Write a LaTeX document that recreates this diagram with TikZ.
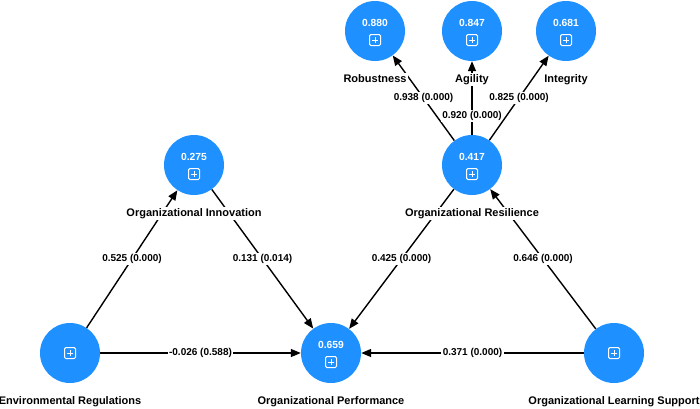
\documentclass[tikz,border=0pt]{standalone}
\usepackage{fontspec}
\setmainfont{Liberation Sans}
\usetikzlibrary{positioning,arrows.meta}
\definecolor{lvblue}{RGB}{30,144,255}

\begin{document}
\begin{tikzpicture}[x=1pt,y=-1pt,
  lv/.style={circle,fill=lvblue,minimum size=60pt,inner sep=0pt},
  val/.style={text=white,inner sep=0pt,font=\bfseries\fontsize{10.3}{12}\selectfont},
  lbl/.style={fill=white,inner sep=1.5pt,text height=8pt,text depth=2pt,font=\bfseries\fontsize{11}{13}\selectfont},
  coef/.style={fill=white,inner sep=1.5pt,font=\bfseries\fontsize{10}{12}\selectfont},
  arr/.style={-{Triangle[length=10pt,width=8pt]},line width=1.4pt},
  plusbox/.pic={
    \draw[white,line width=1pt,rounded corners=1.3pt] (-5.5,-5.5) rectangle (5.5,5.5);
    \draw[white,line width=1pt] (-3.2,0) -- (3.2,0) (0,-3.2) -- (0,3.2);}]
\useasboundingbox (0,0) rectangle (700,408);
% latent variables
\node[lv] (env) at (70,353) {};
\node[lv] (inn) at (194,165) {};
\node[lv] (perf) at (331,353) {};
\node[lv] (res) at (472,165) {};
\node[lv] (ols) at (614,353) {};
\node[lv] (rob) at (375,31) {};
\node[lv] (agi) at (472,31) {};
\node[lv] (int) at (566,31) {};
% R-square values
\node[val] (innV) at ([yshift=8pt]inn.center) {0.275};
\node[val] (perfV) at ([yshift=8pt]perf.center) {0.659};
\node[val] (resV) at ([yshift=8pt]res.center) {0.417};
\node[val] (robV) at ([yshift=8pt]rob.center) {0.880};
\node[val] (agiV) at ([yshift=8pt]agi.center) {0.847};
\node[val] (intV) at ([yshift=8pt]int.center) {0.681};
\pic at ([yshift=-9pt]inn.center) {plusbox};
\pic at ([yshift=-9pt]perf.center) {plusbox};
\pic at ([yshift=-9pt]res.center) {plusbox};
\pic at ([yshift=-9pt]rob.center) {plusbox};
\pic at ([yshift=-9pt]agi.center) {plusbox};
\pic at ([yshift=-9pt]int.center) {plusbox};
\pic at (env.center) {plusbox};
\pic at (ols.center) {plusbox};
% paths
\draw[arr] (env) -- node[coef] (envinn) {0.525 (0.000)} (inn);
\draw[arr] (inn) -- node[coef] (innperf) {0.131 (0.014)} (perf);
\draw[arr] (env) -- node[coef] (envperf) {-0.026 (0.588)} (perf);
\draw[arr] (res) -- node[coef] (resperf) {0.425 (0.000)} (perf);
\draw[arr] (ols) -- node[coef] (olsres) {0.646 (0.000)} (res);
\draw[arr] (ols) -- node[coef] (olsperf) {0.371 (0.000)} (perf);
\draw[arr] (res) -- node[coef] (resrob) {0.938 (0.000)} (rob);
\draw[arr] (res) -- node[coef,pos=0.26] (resagi) {0.920 (0.000)} (agi);
\draw[arr] (res) -- node[coef] (resint) {0.825 (0.000)} (int);
% names
\node[lbl, below=12pt of env] (envL) {Environmental Regulations};
\node[lbl, below=12pt of inn] (innL) {Organizational Innovation};
\node[lbl, below=12pt of perf] (perfL) {Organizational Performance};
\node[lbl, below=12pt of res] (resL) {Organizational Resilience};
\node[lbl, below=12pt of ols] (olsL) {Organizational Learning Support};
\node[lbl, below=12pt of rob] (robL) {Robustness};
\node[lbl, below=12pt of agi] (agiL) {Agility};
\node[lbl, below=12pt of int] (intL) {Integrity};
\end{tikzpicture}
\end{document}
